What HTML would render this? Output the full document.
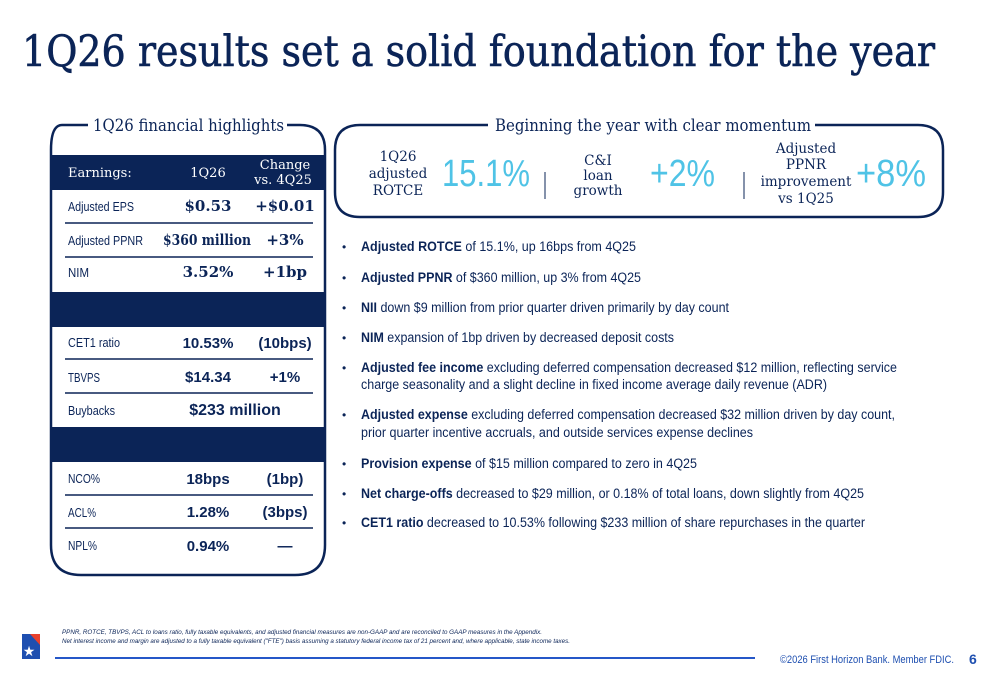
<!DOCTYPE html>
<html><head><meta charset="utf-8"><style>
html,body{margin:0;padding:0;background:#fff;}
svg{display:block;}
.slab{font-family:"DejaVu Serif","Liberation Serif",serif;}
.sans{font-family:"Liberation Sans",sans-serif;}
</style></head><body>
<svg width="1000" height="685" viewBox="0 0 1000 685" xmlns="http://www.w3.org/2000/svg">
<text class="slab" x="22" y="66" font-size="43" fill="#0b2457" stroke="#0b2457" stroke-width="0.6" textLength="913" lengthAdjust="spacingAndGlyphs">1Q26 results set a solid foundation for the year</text>

<!-- Left box -->
<g>
<path d="M88 125 H62 Q51 125 51 150 V545 Q51 575 81 575 H295 Q325 575 325 545 V150 Q325 125 300 125 H287" fill="none" stroke="#0b2457" stroke-width="2.5"/>
<text class="slab" x="93" y="131" font-size="17" fill="#0b2457" textLength="191" lengthAdjust="spacingAndGlyphs">1Q26 financial highlights</text>
<rect x="52" y="155" width="273" height="35" fill="#0b2457"/>
<text class="slab" x="68" y="177" font-size="13" fill="#fff">Earnings:</text>
<text class="slab" x="208" y="177" font-size="13" fill="#fff" text-anchor="middle">1Q26</text>
<text class="slab" x="285" y="169" font-size="13" fill="#fff" text-anchor="middle">Change</text>
<text class="slab" x="283" y="184" font-size="13" fill="#fff" text-anchor="middle">vs. 4Q25</text>
<rect x="52" y="292" width="273" height="35" fill="#0b2457"/>
<rect x="52" y="427" width="273" height="35" fill="#0b2457"/>
<g stroke="#0b2457" stroke-width="1.5">
<line x1="65" y1="223" x2="313" y2="223"/><line x1="65" y1="257" x2="313" y2="257"/>
<line x1="65" y1="359" x2="313" y2="359"/><line x1="65" y1="393" x2="313" y2="393"/>
<line x1="65" y1="495" x2="313" y2="495"/><line x1="65" y1="528" x2="313" y2="528"/>
</g>
<g class="sans" font-size="12.5" fill="#0b2457">
<text x="68" y="211" textLength="66" lengthAdjust="spacingAndGlyphs">Adjusted EPS</text>
<text x="68" y="245" textLength="75" lengthAdjust="spacingAndGlyphs">Adjusted PPNR</text>
<text x="68" y="277" textLength="21" lengthAdjust="spacingAndGlyphs">NIM</text>
<text x="68" y="347" textLength="52" lengthAdjust="spacingAndGlyphs">CET1 ratio</text>
<text x="68" y="382" textLength="32" lengthAdjust="spacingAndGlyphs">TBVPS</text>
<text x="68" y="415" textLength="47" lengthAdjust="spacingAndGlyphs">Buybacks</text>
<text x="68" y="483" textLength="32" lengthAdjust="spacingAndGlyphs">NCO%</text>
<text x="68" y="517" textLength="28" lengthAdjust="spacingAndGlyphs">ACL%</text>
<text x="68" y="550" textLength="29" lengthAdjust="spacingAndGlyphs">NPL%</text>
</g>
<g class="slab" font-size="15" font-weight="bold" fill="#0b2457" text-anchor="middle">
<text x="208" y="211">$0.53</text><text x="285" y="211">+$0.01</text>
<text x="207" y="245" textLength="88" lengthAdjust="spacingAndGlyphs">$360 million</text><text x="285" y="245">+3%</text>
<text x="208" y="277">3.52%</text><text x="285" y="277">+1bp</text>
</g>
<g class="sans" font-size="15" font-weight="bold" fill="#0b2457" text-anchor="middle">
<text x="208" y="348">10.53%</text><text x="285" y="348">(10bps)</text>
<text x="208" y="382">$14.34</text><text x="285" y="382">+1%</text>
<text x="235" y="415" font-size="16">$233 million</text>
<text x="208" y="484">18bps</text><text x="285" y="484">(1bp)</text>
<text x="208" y="517">1.28%</text><text x="285" y="517">(3bps)</text>
<text x="208" y="551">0.94%</text><text x="285" y="551">—</text>
</g>
</g>

<!-- Right box -->
<g>
<path d="M488 125 H360 Q335 125 335 150 V192 Q335 217 360 217 H918 Q943 217 943 192 V150 Q943 125 918 125 H815" fill="none" stroke="#0b2457" stroke-width="2.5"/>
<text class="slab" x="495" y="131" font-size="17" fill="#0b2457" textLength="316" lengthAdjust="spacingAndGlyphs">Beginning the year with clear momentum</text>
<g class="slab" font-size="13.5" fill="#0b2457" text-anchor="middle">
<text x="398" y="161">1Q26</text><text x="398" y="178">adjusted</text><text x="398" y="195">ROTCE</text>
<text x="598" y="165">C&amp;I</text><text x="598" y="180">loan</text><text x="598" y="195">growth</text>
<text x="806" y="153">Adjusted</text><text x="806" y="169">PPNR</text><text x="806" y="186">improvement</text><text x="806" y="203">vs 1Q25</text>
</g>
<g class="sans" font-size="38" fill="#4fc3e6">
<text x="442" y="186" textLength="88" lengthAdjust="spacingAndGlyphs">15.1%</text>
<text x="650" y="186" textLength="65" lengthAdjust="spacingAndGlyphs">+2%</text>
<text x="856" y="186" textLength="70" lengthAdjust="spacingAndGlyphs">+8%</text>
</g>
<line x1="545" y1="172" x2="545" y2="199" stroke="#0b2457" stroke-width="1"/>
<line x1="744" y1="172" x2="744" y2="199" stroke="#0b2457" stroke-width="1"/>
</g>

<!-- Bullets -->
<g class="sans" font-size="13.5" fill="#0b2457">
<g fill="#0b2457" font-size="12"><text x="342" y="251">•</text><text x="342" y="282">•</text><text x="342" y="312">•</text><text x="342" y="342">•</text><text x="342" y="372">•</text><text x="342" y="419">•</text><text x="342" y="468">•</text><text x="342" y="498">•</text><text x="342" y="527">•</text></g>
<text x="361" y="251" textLength="275" lengthAdjust="spacingAndGlyphs"><tspan font-weight="bold">Adjusted ROTCE</tspan> of 15.1%, up 16bps from 4Q25</text>
<text x="361" y="282" textLength="280" lengthAdjust="spacingAndGlyphs"><tspan font-weight="bold">Adjusted PPNR</tspan> of $360 million, up 3% from 4Q25</text>
<text x="361" y="312" textLength="368" lengthAdjust="spacingAndGlyphs"><tspan font-weight="bold">NII</tspan> down $9 million from prior quarter driven primarily by day count</text>
<text x="361" y="342" textLength="313" lengthAdjust="spacingAndGlyphs"><tspan font-weight="bold">NIM</tspan> expansion of 1bp driven by decreased deposit costs</text>
<text x="361" y="372" textLength="536" lengthAdjust="spacingAndGlyphs"><tspan font-weight="bold">Adjusted fee income</tspan> excluding deferred compensation decreased $12 million, reflecting service</text>
<text x="361" y="389" textLength="466" lengthAdjust="spacingAndGlyphs">charge seasonality and a slight decline in fixed income average daily revenue (ADR)</text>
<text x="361" y="419" textLength="534" lengthAdjust="spacingAndGlyphs"><tspan font-weight="bold">Adjusted expense</tspan> excluding deferred compensation decreased $32 million driven by day count,</text>
<text x="361" y="437" textLength="392" lengthAdjust="spacingAndGlyphs">prior quarter incentive accruals, and outside services expense declines</text>
<text x="361" y="468" textLength="336" lengthAdjust="spacingAndGlyphs"><tspan font-weight="bold">Provision expense</tspan> of $15 million compared to zero in 4Q25</text>
<text x="361" y="498" textLength="503" lengthAdjust="spacingAndGlyphs"><tspan font-weight="bold">Net charge-offs</tspan> decreased to $29 million, or 0.18% of total loans, down slightly from 4Q25</text>
<text x="361" y="527" textLength="504" lengthAdjust="spacingAndGlyphs"><tspan font-weight="bold">CET1 ratio</tspan> decreased to 10.53% following $233 million of share repurchases in the quarter</text>
</g>

<!-- Footer -->
<g>
<g>
<rect x="22" y="634" width="18" height="25" fill="#1e4fb0"/>
<polygon points="30,634 40,634 40,645" fill="#e8412c"/>
<text x="29" y="656" font-size="14" fill="#fff" text-anchor="middle" class="sans">★</text>
</g>
<text class="sans" x="62" y="634" font-size="6.5" font-style="italic" fill="#0b2457" textLength="480" lengthAdjust="spacingAndGlyphs">PPNR, ROTCE, TBVPS, ACL to loans ratio, fully taxable equivalents, and adjusted financial measures are non-GAAP and are reconciled to GAAP measures in the Appendix.</text>
<text class="sans" x="62" y="643" font-size="6.5" font-style="italic" fill="#0b2457" textLength="508" lengthAdjust="spacingAndGlyphs">Net interest income and margin are adjusted to a fully taxable equivalent ("FTE") basis assuming a statutory federal income tax of 21 percent and, where applicable, state income taxes.</text>
<line x1="55" y1="658" x2="755" y2="658" stroke="#2557c8" stroke-width="2"/>
<text class="sans" x="780" y="663" font-size="11" fill="#1e4fb0" textLength="174" lengthAdjust="spacingAndGlyphs">©2026 First Horizon Bank. Member FDIC.</text>
<text class="sans" x="969" y="664" font-size="14" font-weight="bold" fill="#1e4fb0">6</text>
</g>
</svg>
</body></html>
